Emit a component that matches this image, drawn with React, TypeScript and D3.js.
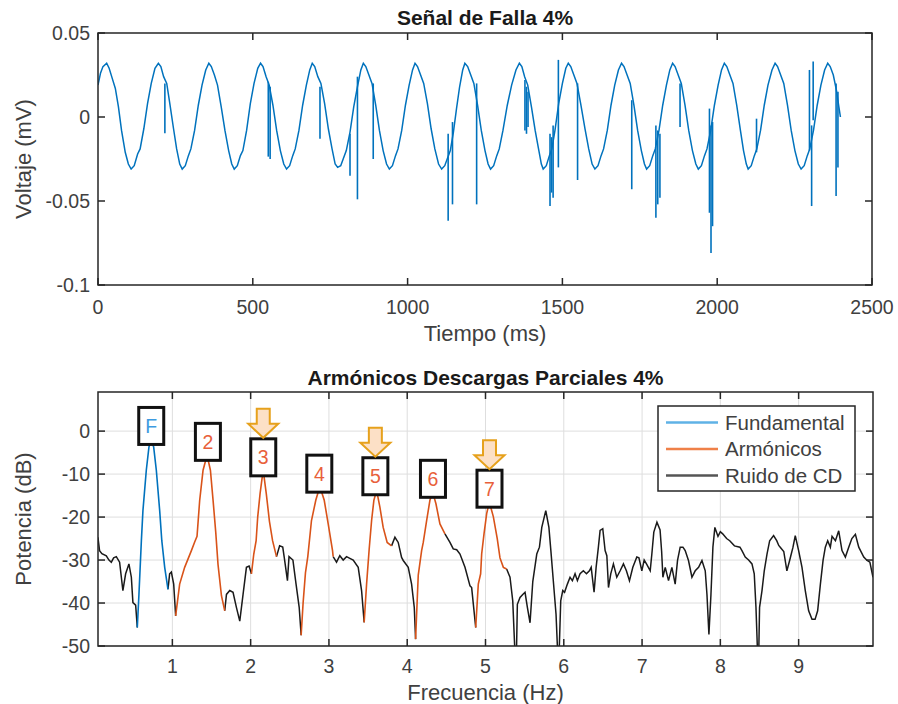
import React from "react";
import * as d3 from "d3";

// Señal de falla: [tiempo ms, voltaje mV]
const signal: [number, number][] = [
  [0, 0.019], [8, 0.026], [16, 0.030], [28, 0.032], [36, 0.029], [46, 0.023], [56, 0.017], [66, 0.006], [76, -0.008], [88, -0.021], [98, -0.028], [107, -0.031],
  [117, -0.029], [128, -0.022], [136, -0.019], [148, -0.007], [160, 0.008], [172, 0.020], [184, 0.029], [195, 0.032],
  [203, 0.030], [212, 0.024], [222, 0.020], [232, 0.008], [244, -0.007], [254, -0.019], [264, -0.028], [272, -0.031],
  [282, -0.029], [292, -0.023], [300, -0.019], [312, -0.008], [324, 0.007], [336, 0.019], [348, 0.028], [358, 0.032],
  [366, 0.030], [376, 0.025], [386, 0.019], [398, 0.006], [410, -0.008], [422, -0.020], [432, -0.028], [440, -0.031],
  [450, -0.029], [460, -0.023], [468, -0.020], [480, -0.008], [492, 0.008], [504, 0.020], [516, 0.029], [525, 0.032],
  [533, 0.030], [543, 0.024], [553, 0.019], [565, 0.007], [577, -0.008], [589, -0.020], [600, -0.028], [609, -0.031],
  [619, -0.029], [629, -0.023], [637, -0.019], [649, -0.008], [661, 0.007], [673, 0.019], [684, 0.028], [692, 0.032],
  [700, 0.030], [710, 0.024], [720, 0.020], [732, 0.008], [744, -0.007], [756, -0.019], [766, -0.028], [774, -0.030],
  [784, -0.029], [794, -0.024], [802, -0.020], [814, -0.009], [826, 0.006], [838, 0.018], [849, 0.028], [857, 0.032],
  [865, 0.030], [875, 0.025], [885, 0.020], [897, 0.007], [909, -0.008], [921, -0.020], [932, -0.028], [941, -0.031],
  [951, -0.029], [961, -0.023], [969, -0.019], [981, -0.008], [993, 0.007], [1005, 0.019], [1016, 0.028], [1024, 0.032],
  [1032, 0.030], [1042, 0.025], [1052, 0.020], [1064, 0.008], [1076, -0.007], [1088, -0.019], [1100, -0.028], [1110, -0.031],
  [1120, -0.029], [1130, -0.024], [1138, -0.020], [1148, -0.009], [1158, 0.005], [1168, 0.018], [1178, 0.028], [1185, 0.032],
  [1194, 0.030], [1204, 0.025], [1214, 0.020], [1226, 0.007], [1238, -0.008], [1250, -0.020], [1260, -0.028], [1268, -0.031],
  [1278, -0.029], [1288, -0.023], [1296, -0.019], [1308, -0.008], [1322, 0.007], [1336, 0.019], [1350, 0.028], [1361, 0.032],
  [1369, 0.030], [1378, 0.024], [1388, 0.019], [1400, 0.006], [1412, -0.008], [1424, -0.020], [1432, -0.028], [1438, -0.031],
  [1448, -0.029], [1458, -0.023], [1466, -0.019], [1476, -0.008], [1488, 0.008], [1500, 0.020], [1511, 0.029], [1519, 0.032],
  [1527, 0.030], [1537, 0.025], [1547, 0.020], [1559, 0.008], [1573, -0.007], [1585, -0.019], [1596, -0.028], [1605, -0.031],
  [1615, -0.029], [1625, -0.023], [1633, -0.019], [1645, -0.008], [1657, 0.007], [1669, 0.019], [1681, 0.028], [1691, 0.032],
  [1699, 0.030], [1709, 0.025], [1719, 0.020], [1731, 0.007], [1743, -0.008], [1755, -0.020], [1765, -0.028], [1772, -0.031],
  [1782, -0.029], [1792, -0.023], [1800, -0.019], [1812, -0.008], [1824, 0.007], [1836, 0.019], [1847, 0.028], [1856, 0.032],
  [1864, 0.030], [1874, 0.025], [1884, 0.020], [1896, 0.007], [1908, -0.008], [1920, -0.020], [1931, -0.028], [1939, -0.031],
  [1949, -0.029], [1959, -0.023], [1967, -0.019], [1979, -0.008], [1991, 0.007], [2003, 0.019], [2014, 0.028], [2023, 0.032],
  [2031, 0.030], [2041, 0.025], [2051, 0.020], [2063, 0.007], [2075, -0.008], [2085, -0.020], [2094, -0.028], [2100, -0.031],
  [2110, -0.029], [2120, -0.023], [2128, -0.019], [2140, -0.008], [2152, 0.007], [2164, 0.019], [2177, 0.028], [2187, 0.032],
  [2195, 0.030], [2205, 0.025], [2215, 0.020], [2227, 0.007], [2239, -0.008], [2251, -0.020], [2262, -0.028], [2271, -0.031],
  [2281, -0.029], [2291, -0.023], [2299, -0.019], [2311, -0.008], [2323, 0.007], [2335, 0.019], [2347, 0.028], [2357, 0.032],
  [2365, 0.030], [2375, 0.025], [2385, 0.016], [2393, 0.006], [2398, 0.0],
];

// descargas parciales: [tiempo, desde, hasta]
const spikes: [number, number, number][] = [
  [216, 0.020, -0.0097], [550, 0.021, -0.0236], [556, 0.018, -0.025], [717, 0.018, -0.013],
  [814, -0.010, -0.035], [838, 0.024, -0.049], [889, 0.020, -0.025], [1131, -0.010, -0.0617],
  [1145, -0.003, -0.052], [1223, 0.020, -0.052], [1379, 0.022, -0.008], [1384, 0.018, -0.010],
  [1389, 0.015, -0.006], [1460, -0.010, -0.053], [1465, -0.012, -0.045], [1470, -0.005, -0.048],
  [1487, 0.034, -0.030], [1549, 0.020, -0.0375], [1724, 0.010, -0.043], [1802, -0.005, -0.060],
  [1808, -0.008, -0.052], [1815, -0.010, -0.048], [1880, 0.020, -0.006], [1975, 0.005, -0.057],
  [1980, -0.005, -0.081], [1985, -0.003, -0.065], [2127, -0.001, -0.021], [2298, 0.028, -0.020],
  [2305, -0.005, -0.053], [2310, 0.033, -0.002], [2384, 0.020, -0.047], [2390, 0.015, -0.030],
];

// espectro: [frecuencia Hz, potencia dB]
const spectrum: [number, number][] = [
  [0.049, -24.7], [0.07, -27.8], [0.1, -28.5], [0.156, -29], [0.19, -30], [0.22, -30.5], [0.25, -29.5],
  [0.284, -29.2], [0.326, -30.5], [0.368, -37.1], [0.403, -33.2], [0.445, -30.9], [0.476, -34], [0.496, -39.9],
  [0.531, -40.5], [0.552, -45.7], [0.573, -38], [0.604, -25.5], [0.624, -18.5], [0.667, -9.1], [0.701, -3.7],
  [0.731, -1.9], [0.761, -3.7], [0.795, -9.1], [0.838, -18.5], [0.865, -25.5], [0.902, -31.7], [0.944, -36.8],
  [0.965, -33.2], [0.987, -32.8], [1.017, -35.6], [1.042, -43], [1.093, -35.6], [1.157, -31.7], [1.243, -27.8],
  [1.285, -25.8], [1.315, -24.5], [1.349, -16.1], [1.392, -9.1], [1.443, -5.6], [1.486, -9.1], [1.52, -16.1],
  [1.554, -23.5], [1.583, -31], [1.627, -38.3], [1.669, -41.8], [1.691, -38], [1.733, -37.1], [1.775, -37.5],
  [1.818, -41], [1.861, -44.2], [1.903, -38], [1.946, -31.7], [1.98, -31.4], [2.01, -33.2], [2.04, -28.6],
  [2.07, -25.5], [2.09, -20], [2.12, -14.6], [2.16, -9.0], [2.2, -14.6], [2.24, -21], [2.28, -25.5], [2.33, -29.2],
  [2.37, -26.7], [2.41, -27], [2.43, -29.5], [2.47, -34.8], [2.49, -29.2], [2.54, -30], [2.58, -35.6], [2.62, -41],
  [2.645, -47.5], [2.67, -40], [2.7, -33], [2.73, -29.2], [2.777, -20.8], [2.832, -16.1], [2.884, -12.9],
  [2.94, -16.1], [2.99, -21.5], [3.046, -27.8], [3.054, -29.2], [3.097, -30.5], [3.139, -29], [3.182, -30],
  [3.225, -29.2], [3.267, -29.6], [3.31, -30], [3.374, -31.7], [3.417, -37.1], [3.45, -44.5], [3.481, -35.6],
  [3.514, -27.5], [3.545, -20.8], [3.574, -16.1], [3.609, -13.8], [3.651, -17.7], [3.693, -22.4], [3.744, -25.9],
  [3.8, -26.7], [3.843, -24.7], [3.885, -25.9], [3.928, -29.4], [3.949, -30.1], [4.013, -31.7], [4.056, -35.6],
  [4.09, -41], [4.107, -48.4], [4.141, -33.5], [4.184, -27.8], [4.205, -25.9], [4.248, -20.8], [4.29, -16.1],
  [4.325, -14.2], [4.367, -16.9], [4.418, -21.6], [4.482, -23.9], [4.546, -25.9], [4.588, -27.4], [4.632, -27.6],
  [4.674, -28.6], [4.738, -31.7], [4.802, -36], [4.823, -36.4], [4.875, -45.7], [4.908, -35.6], [4.938, -33.2],
  [4.951, -28.6], [4.981, -23.9], [5.015, -19.2], [5.049, -16.5], [5.1, -19.9], [5.15, -25], [5.185, -29.5],
  [5.228, -31.7], [5.27, -32.1], [5.313, -34], [5.348, -39.5], [5.377, -52], [5.395, -52], [5.407, -40.3],
  [5.441, -38.7], [5.476, -38], [5.505, -37.5], [5.535, -41], [5.569, -44.6], [5.604, -35], [5.655, -28.6],
  [5.689, -27], [5.719, -22.4], [5.77, -18.5], [5.81, -22.4], [5.835, -27.8], [5.867, -35], [5.901, -42.6],
  [5.923, -52], [5.94, -52], [5.961, -39.5], [5.987, -37.1], [6.01, -37.5], [6.046, -35.6], [6.08, -34],
  [6.11, -34.8], [6.144, -33.2], [6.174, -34.8], [6.208, -33.2], [6.25, -32.5], [6.29, -33.2], [6.327, -32.5],
  [6.35, -31.7], [6.387, -37.5], [6.413, -31.7], [6.442, -27], [6.464, -23.1], [6.498, -22.7], [6.528, -27.8],
  [6.55, -29], [6.571, -36.4], [6.6, -33.2], [6.634, -30.9], [6.677, -34], [6.72, -32.5], [6.762, -30.9],
  [6.8, -32.5], [6.839, -34.8], [6.882, -31.7], [6.933, -29.3], [6.96, -29.5], [6.997, -32.5], [7.027, -30],
  [7.06, -31], [7.104, -32.5], [7.125, -28.6], [7.15, -23.5], [7.19, -21.2], [7.23, -23], [7.25, -28],
  [7.266, -34], [7.296, -31.7], [7.338, -34.8], [7.381, -31.7], [7.423, -35.6], [7.453, -30.1], [7.487, -27],
  [7.522, -27], [7.551, -27.8], [7.593, -30.1], [7.637, -34], [7.679, -32.5], [7.722, -31.7], [7.765, -30.1],
  [7.807, -32.5], [7.829, -38], [7.854, -47.3], [7.88, -38], [7.905, -27], [7.93, -22.4], [7.97, -24.5],
  [8.0, -23.4], [8.03, -23.9], [8.08, -25], [8.12, -25.5], [8.18, -26.7], [8.25, -27], [8.276, -27.8],
  [8.318, -29.3], [8.361, -30], [8.404, -30.9], [8.433, -33.2], [8.455, -41], [8.476, -52], [8.49, -52],
  [8.501, -41], [8.532, -37.1], [8.561, -32.5], [8.596, -28.6], [8.63, -25.5], [8.68, -24.3], [8.72, -25.5],
  [8.746, -26.6], [8.765, -27], [8.81, -28], [8.85, -32.5], [8.885, -30.1], [8.928, -27], [8.957, -24.3],
  [9.0, -27.8], [9.043, -31.7], [9.085, -37.1], [9.128, -41.8], [9.171, -43.8], [9.21, -43.8], [9.243, -41.8],
  [9.278, -35.6], [9.312, -30.1], [9.341, -27], [9.371, -25.5], [9.405, -27], [9.427, -24.5], [9.47, -25.5],
  [9.512, -23.2], [9.554, -27.8], [9.597, -29.3], [9.64, -27], [9.68, -25], [9.725, -24], [9.768, -27],
  [9.832, -29.3], [9.875, -30.1], [9.91, -30.5], [9.95, -34],
];

const fundamentalBand: [number, number] = [0.552, 0.944];
const harmonicBands: [number, number][] = [
  [1.042, 1.669], [2.01, 2.33], [2.645, 3.054], [3.45, 3.78], [4.107, 4.48], [4.875, 5.27],
];

const peakLabels = ["F", "2", "3", "4", "5", "6", "7"];
const peakFreqs = [0.73, 1.454, 2.161, 2.877, 3.593, 4.329, 5.051];
const labelDb = [1.2, -2.5, -6.1, -9.9, -10.5, -11.1, -13.4];
const arrowed = ["3", "5", "7"];

const legendLabels = ["Fundamental", "Armónicos", "Ruido de CD"];
const timeTicks = [0, 500, 1000, 1500, 2000, 2500];
const voltTicks = [0.05, 0, -0.05, -0.1];
const freqTicks = [1, 2, 3, 4, 5, 6, 7, 8, 9];
const dbTicks = [0, -10, -20, -30, -40, -50];

const FONT = "'Liberation Sans', Arial, Helvetica, sans-serif";
const AX = "#262626";
const TXT = "#404040";
const BLUE = "#0072BD";
const ORANGE = "#D95319";
const NOISE = "#1a1a1a";

const App = () => {
  const x1 = d3.scaleLinear().domain([0, 2500]).range([98, 872]);
  const y1 = d3.scaleLinear().domain([-0.1, 0.05]).range([285, 33]);
  const x2 = d3.scaleLinear().domain([0.05, 9.95]).range([98, 873]);
  const y2 = d3.scaleLinear().domain([-50, 9.1]).range([646, 392]);

  const sigLine = d3
    .line<[number, number]>()
    .x((d) => x1(d[0]))
    .y((d) => y1(d[1]));
  const specLine = d3
    .line<[number, number]>()
    .x((d) => x2(d[0]))
    .y((d) => y2(d[1]));

  const cls = (f: number) => {
    if (f >= fundamentalBand[0] && f <= fundamentalBand[1]) return "F";
    if (harmonicBands.some(([a, b]) => f >= a && f <= b)) return "H";
    return "N";
  };
  const runs: { c: string; pts: [number, number][] }[] = [];
  let cur: { c: string; pts: [number, number][] } | null = null;
  for (let i = 1; i < spectrum.length; i++) {
    const c = cls((spectrum[i - 1][0] + spectrum[i][0]) / 2);
    if (!cur || cur.c !== c) {
      cur = { c, pts: [spectrum[i - 1]] };
      runs.push(cur);
    }
    cur.pts.push(spectrum[i]);
  }
  const runColor = (c: string) => (c === "F" ? BLUE : c === "H" ? ORANGE : NOISE);

  const [tL, tR] = x1.range();
  const [tB, tT] = y1.range();
  const [bL, bR] = x2.range();
  const [bB, bT] = y2.range();
  const tick = 7;

  const legendX = 658;
  const legendY = 406;
  const legendColors = ["#5fb2e6", "#ef8048", "#555555"];

  return (
    <svg
      width={898}
      height={704}
      style={{ position: "absolute", left: 0, top: 0, background: "#fff" }}
      fontFamily={FONT}
    >
      <defs>
        <clipPath id="clipTop">
          <rect x={tL} y={tT} width={tR - tL} height={tB - tT} />
        </clipPath>
        <clipPath id="clipBot">
          <rect x={bL} y={bT} width={bR - bL} height={bB - bT} />
        </clipPath>
      </defs>

      {/* ---- señal ---- */}
      <text x={(tL + tR) / 2} y={25} textAnchor="middle" fontWeight="bold" fontSize={21} fill="#1a1a1a">
        Señal de Falla 4%
      </text>
      <g clipPath="url(#clipTop)">
        <path d={sigLine(signal) || ""} fill="none" stroke={BLUE} strokeWidth={1.5} />
        {spikes.map((s, i) => (
          <line key={i} x1={x1(s[0])} x2={x1(s[0])} y1={y1(s[1])} y2={y1(s[2])} stroke={BLUE} strokeWidth={1.6} />
        ))}
      </g>
      <rect x={tL} y={tT} width={tR - tL} height={tB - tT} fill="none" stroke={AX} strokeWidth={1.5} />
      {timeTicks.map((t) => (
        <g key={t}>
          <line x1={x1(t)} x2={x1(t)} y1={tB} y2={tB - tick} stroke={AX} strokeWidth={1.5} />
          <line x1={x1(t)} x2={x1(t)} y1={tT} y2={tT + tick} stroke={AX} strokeWidth={1.5} />
          <text x={x1(t)} y={314} textAnchor="middle" fontSize={19.5} fill={TXT}>
            {t}
          </text>
        </g>
      ))}
      {voltTicks.map((v) => (
        <g key={v}>
          <line x1={tL} x2={tL + tick} y1={y1(v)} y2={y1(v)} stroke={AX} strokeWidth={1.5} />
          <line x1={tR} x2={tR - tick} y1={y1(v)} y2={y1(v)} stroke={AX} strokeWidth={1.5} />
          <text x={90} y={y1(v) + 7} textAnchor="end" fontSize={19.5} fill={TXT}>
            {String(v)}
          </text>
        </g>
      ))}
      <text x={(tL + tR) / 2} y={341} textAnchor="middle" fontSize={22} fill={TXT}>
        Tiempo (ms)
      </text>
      <text transform={`translate(31,${(tT + tB) / 2}) rotate(-90)`} textAnchor="middle" fontSize={22} fill={TXT}>
        Voltaje (mV)
      </text>

      {/* ---- espectro ---- */}
      <text x={(bL + bR) / 2} y={385} textAnchor="middle" fontWeight="bold" fontSize={21} fill="#1a1a1a">
        Armónicos Descargas Parciales 4%
      </text>
      {freqTicks.map((f) => (
        <line key={"gx" + f} x1={x2(f)} x2={x2(f)} y1={bT} y2={bB} stroke="#dedede" strokeWidth={1} />
      ))}
      {dbTicks.map((d) => (
        <line key={"gy" + d} x1={bL} x2={bR} y1={y2(d)} y2={y2(d)} stroke="#dedede" strokeWidth={1} />
      ))}
      <g clipPath="url(#clipBot)">
        {runs
          .filter((r) => r.c === "N")
          .map((r, i) => (
            <path key={"n" + i} d={specLine(r.pts) || ""} fill="none" stroke={runColor(r.c)} strokeWidth={1.5} />
          ))}
        {runs
          .filter((r) => r.c !== "N")
          .map((r, i) => (
            <path key={"c" + i} d={specLine(r.pts) || ""} fill="none" stroke={runColor(r.c)} strokeWidth={1.6} />
          ))}
      </g>
      <rect x={bL} y={bT} width={bR - bL} height={bB - bT} fill="none" stroke={AX} strokeWidth={1.5} />
      {freqTicks.map((f) => (
        <g key={f}>
          <line x1={x2(f)} x2={x2(f)} y1={bB} y2={bB - tick} stroke={AX} strokeWidth={1.5} />
          <line x1={x2(f)} x2={x2(f)} y1={bT} y2={bT + tick} stroke={AX} strokeWidth={1.5} />
          <text x={x2(f)} y={673} textAnchor="middle" fontSize={19.5} fill={TXT}>
            {f}
          </text>
        </g>
      ))}
      {dbTicks.map((d) => (
        <g key={d}>
          <line x1={bL} x2={bL + tick} y1={y2(d)} y2={y2(d)} stroke={AX} strokeWidth={1.5} />
          <line x1={bR} x2={bR - tick} y1={y2(d)} y2={y2(d)} stroke={AX} strokeWidth={1.5} />
          <text x={90} y={y2(d) + 7} textAnchor="end" fontSize={19.5} fill={TXT}>
            {String(d)}
          </text>
        </g>
      ))}
      <text x={(bL + bR) / 2} y={700} textAnchor="middle" fontSize={22} fill={TXT}>
        Frecuencia (Hz)
      </text>
      <text transform={`translate(31,${(bT + bB) / 2}) rotate(-90)`} textAnchor="middle" fontSize={22} fill={TXT}>
        Potencia (dB)
      </text>

      {/* etiquetas de armónicos */}
      {peakLabels.map((lab, i) => {
        const cx = x2(peakFreqs[i]);
        const cy = y2(labelDb[i]);
        const top = cy - 18.5;
        return (
          <g key={lab}>
            <rect x={cx - 12.5} y={top} width={25} height={37} fill="#fff" stroke="#111" strokeWidth={3} />
            <text
              x={cx}
              y={cy + 7}
              textAnchor="middle"
              fontSize={19.5}
              fill={lab === "F" ? "#3d9ae0" : "#e8603a"}
            >
              {lab}
            </text>
            {arrowed.includes(lab) && (
              <path
                d={`M${cx - 6.5},${top - 30} L${cx + 6.5},${top - 30} L${cx + 6.5},${top - 15} L${cx + 15},${top - 15} L${cx},${top - 1} L${cx - 15},${top - 15} L${cx - 6.5},${top - 15} Z`}
                fill="#fce0c6"
                stroke="#e6a11c"
                strokeWidth={2}
                strokeLinejoin="miter"
              />
            )}
          </g>
        );
      })}

      {/* leyenda */}
      <rect x={legendX} y={legendY} width={197} height={85} fill="#fff" stroke={AX} strokeWidth={1.5} />
      {legendLabels.map((l, i) => {
        const y = legendY + 16.5 + i * 26.5;
        return (
          <g key={l}>
            <line x1={legendX + 8} x2={legendX + 60} y1={y} y2={y} stroke={legendColors[i]} strokeWidth={2.5} />
            <text x={legendX + 67} y={y + 7} fontSize={20.5} fill={TXT}>
              {l}
            </text>
          </g>
        );
      })}
    </svg>
  );
};

export default App;
